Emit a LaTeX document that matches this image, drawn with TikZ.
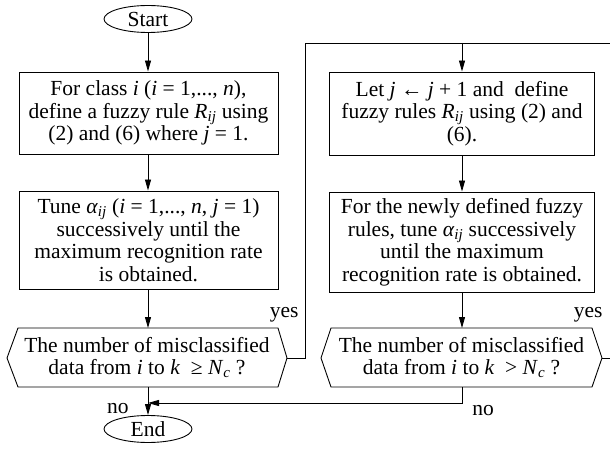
\documentclass[tikz,border=0pt]{standalone}
\usepackage{fontspec}
\setmainfont{Liberation Serif}
\usetikzlibrary{arrows.meta,shapes.geometric}
\newcommand{\vi}[1]{\textit{#1}}
\newcommand{\ms}[1]{\textsubscript{\textit{#1}}}
\begin{document}
\begin{tikzpicture}[x=1pt,y=-1pt,line width=0.9pt,
  >={Triangle[length=11pt,width=6pt]},
  font=\fontsize{21.5}{22.5}\selectfont,
  procbox/.style={draw,inner sep=0pt,align=center},
  term/.style={draw,ellipse,minimum width=88pt,minimum height=27pt,inner sep=0pt},
  lbl/.style={inner sep=0pt},
  hexline/.style={draw,line join=miter}]
\useasboundingbox (0,0) rectangle (610,449);

\node[term] (start) at (148,19) {Start};
\node[procbox,minimum width=259pt,minimum height=82pt] (b1) at (148.5,113)
  {For class \vi{i} (\vi{i} = 1,..., \vi{n}),\\ define a fuzzy rule \vi{R}\ms{ij} using\\ (2) and (6) where \vi{j} = 1.};
\node[procbox,minimum width=259pt,minimum height=98pt] (b2) at (148.5,240)
  {Tune \vi{α}\ms{ij} (\vi{i} = 1,..., \vi{n}, \vi{j} = 1)\\ successively until the\\ maximum recognition rate\\ is obtained.};
\node[procbox,minimum width=265pt,minimum height=83pt] (b3) at (462,113.5)
  {Let \vi{j} ← \vi{j} + 1 and\ \ define\\ fuzzy rules \vi{R}\ms{ij} using (2) and\\ (6).};
\node[procbox,minimum width=265pt,minimum height=100pt] (b4) at (462,242)
  {For the newly defined fuzzy\\ rules, tune \vi{α}\ms{ij} successively\\ until the maximum\\ recognition rate is obtained.};

% decision 1
\node[lbl,align=center] (d1) at (147,357.5)
  {The number of misclassified\\ data from \vi{i} to \vi{k}\ \ ≥ \vi{N}\ms{c} ?};
\coordinate (d1w) at (7,358);
\coordinate (d1e) at (287,358);
\coordinate (d1n) at (148,328);
\coordinate (d1s) at (148,387);
\draw[hexline] (d1w) -- (18,328) -- (278,328) -- (d1e) -- (278,387) -- (18,387) -- cycle;

% decision 2
\node[lbl,align=center] (d2) at (461.5,357.5)
  {The number of misclassified\\ data from \vi{i} to \vi{k}\ \ > \vi{N}\ms{c} ?};
\coordinate (d2w) at (321,358);
\coordinate (d2e) at (602,358);
\coordinate (d2n) at (462,328);
\coordinate (d2s) at (462,387);
\draw[hexline] (d2w) -- (331,328) -- (592,328) -- (d2e) -- (592,387) -- (331,387) -- cycle;

\node[term] (end) at (148,429) {End};

\coordinate (loopA) at (305,43);
\coordinate (loopR) at (610,43);
\coordinate (edgeR) at (610,358);
\coordinate (merge) at (148,403);

\draw[->] (start) -- (b1.north -| start);
\draw[->] (b1.south -| start) -- (b2.north -| start);
\draw[->] (b2.south -| start) -- (d1n);
\draw[->] (d1s) -- (end);
\draw (d1e) -| (loopA) -- (loopR);
\draw[->] (b3.north |- loopA) -- (b3.north);
\draw[->] (b3) -- (b4);
\draw[->] (b4) -- (d2n);
\draw (d2e) -- (edgeR);
\draw[->] (d2s) |- (merge);

\node[lbl,anchor=base east] (yes1) at (299,317) {yes};
\node[lbl,anchor=base east] (yes2) at (603,317) {yes};
\node[lbl,anchor=base east] (no1) at (129,413) {no};
\node[lbl,anchor=base west] (no2) at (472,415) {no};
\end{tikzpicture}
\end{document}
